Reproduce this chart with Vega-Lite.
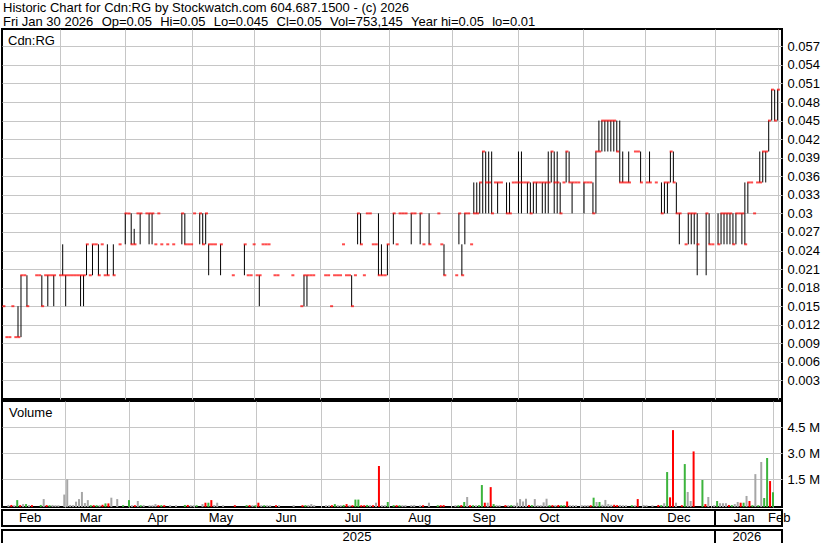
{
  "$schema": "https://vega.github.io/schema/vega-lite/v6.json",
  "background": "white",
  "padding": {"left": 1, "top": 2, "right": 0, "bottom": 0},
  "title": {
    "text": ["Historic Chart for Cdn:RG by Stockwatch.com 604.687.1500 - (c) 2026", "Fri Jan 30 2026 \u00a0\u200aOp=0.05 \u00a0\u200aHi=0.05 \u00a0\u200aLo=0.045 \u00a0\u200aCl=0.05 \u00a0\u200aVol=753,145 \u00a0\u200aYear hi=0.05 \u00a0\u200alo=0.01"],
    "anchor": "start", "font": "Liberation Sans", "fontSize": 13, "fontWeight": "normal", "color": "black", "lineHeight": 14, "offset": -1, "dx": 2
  },
  "datasets": {
    "px": [
      {"s":0,"lo":0.015,"hi":0.015,"c":0.015,"v":20000},
      {"s":1,"lo":0.01,"hi":0.01,"c":0.01,"v":20000},
      {"s":2,"lo":0.01,"hi":0.01,"c":0.01,"v":5000},
      {"s":3,"lo":0.015,"hi":0.015,"c":0.015,"v":300000},
      {"s":4,"lo":0.01,"hi":0.01,"c":0.01,"v":10000},
      {"s":5,"lo":0.01,"hi":0.015,"c":0.01,"v":70000},
      {"s":6,"lo":0.01,"hi":0.02,"c":0.02,"v":70000},
      {"s":7,"lo":0.02,"hi":0.02,"c":0.02,"v":10000},
      {"s":8,"lo":0.015,"hi":0.02,"c":0.015,"v":10000},
      {"s":11,"lo":0.02,"hi":0.02,"c":0.02,"v":20000},
      {"s":12,"lo":0.02,"hi":0.02,"c":0.02,"v":360000},
      {"s":13,"lo":0.015,"hi":0.02,"c":0.015,"v":10000},
      {"s":14,"lo":0.02,"hi":0.02,"c":0.02,"v":5000},
      {"s":15,"lo":0.015,"hi":0.02,"c":0.02,"v":20000},
      {"s":16,"lo":0.02,"hi":0.02,"c":0.02,"v":5000},
      {"s":17,"lo":0.015,"hi":0.02,"c":0.02,"v":5000},
      {"s":19,"lo":0.02,"hi":0.02,"c":0.02,"v":620000},
      {"s":20,"lo":0.02,"hi":0.025,"c":0.02,"v":1500000},
      {"s":21,"lo":0.015,"hi":0.02,"c":0.02,"v":20000},
      {"s":22,"lo":0.02,"hi":0.02,"c":0.02,"v":10000},
      {"s":23,"lo":0.02,"hi":0.02,"c":0.02,"v":210000},
      {"s":24,"lo":0.02,"hi":0.02,"c":0.02,"v":360000},
      {"s":25,"lo":0.02,"hi":0.02,"c":0.02,"v":770000},
      {"s":26,"lo":0.015,"hi":0.02,"c":0.02,"v":130000},
      {"s":27,"lo":0.015,"hi":0.02,"c":0.02,"v":300000},
      {"s":28,"lo":0.02,"hi":0.025,"c":0.025,"v":10000},
      {"s":29,"lo":0.02,"hi":0.02,"c":0.02,"v":5000},
      {"s":30,"lo":0.02,"hi":0.025,"c":0.025,"v":5000},
      {"s":31,"lo":0.025,"hi":0.025,"c":0.025,"v":5000},
      {"s":32,"lo":0.02,"hi":0.025,"c":0.02,"v":30000},
      {"s":33,"lo":0.025,"hi":0.025,"c":0.025,"v":110000},
      {"s":34,"lo":0.02,"hi":0.02,"c":0.02,"v":110000},
      {"s":35,"lo":0.02,"hi":0.025,"c":0.02,"v":440000},
      {"s":37,"lo":0.02,"hi":0.025,"c":0.02,"v":360000},
      {"s":39,"lo":0.025,"hi":0.025,"c":0.025,"v":5000},
      {"s":41,"lo":0.025,"hi":0.03,"c":0.03,"v":300000},
      {"s":42,"lo":0.03,"hi":0.03,"c":0.03,"v":5000},
      {"s":43,"lo":0.025,"hi":0.03,"c":0.025,"v":5000},
      {"s":44,"lo":0.025,"hi":0.0275,"c":0.025,"v":250000},
      {"s":45,"lo":0.03,"hi":0.03,"c":0.03,"v":5000},
      {"s":46,"lo":0.025,"hi":0.03,"c":0.03,"v":20000},
      {"s":48,"lo":0.03,"hi":0.03,"c":0.03,"v":5000},
      {"s":49,"lo":0.025,"hi":0.03,"c":0.03,"v":5000},
      {"s":50,"lo":0.025,"hi":0.03,"c":0.03,"v":70000},
      {"s":51,"lo":0.025,"hi":0.025,"c":0.025,"v":5000},
      {"s":52,"lo":0.03,"hi":0.03,"c":0.03,"v":10000},
      {"s":53,"lo":0.025,"hi":0.025,"c":0.025,"v":5000},
      {"s":55,"lo":0.025,"hi":0.025,"c":0.025,"v":10000},
      {"s":57,"lo":0.025,"hi":0.025,"c":0.025,"v":5000},
      {"s":60,"lo":0.025,"hi":0.03,"c":0.03,"v":20000},
      {"s":61,"lo":0.025,"hi":0.03,"c":0.025,"v":20000},
      {"s":62,"lo":0.025,"hi":0.025,"c":0.025,"v":10000},
      {"s":63,"lo":0.025,"hi":0.025,"c":0.025,"v":5000},
      {"s":64,"lo":0.03,"hi":0.03,"c":0.03,"v":5000},
      {"s":66,"lo":0.025,"hi":0.03,"c":0.03,"v":70000},
      {"s":67,"lo":0.025,"hi":0.03,"c":0.025,"v":150000},
      {"s":68,"lo":0.025,"hi":0.03,"c":0.03,"v":150000},
      {"s":69,"lo":0.02,"hi":0.025,"c":0.025,"v":300000},
      {"s":70,"lo":0.025,"hi":0.025,"c":0.025,"v":20000},
      {"s":71,"lo":0.025,"hi":0.025,"c":0.025,"v":150000},
      {"s":73,"lo":0.02,"hi":0.025,"c":0.025,"v":5000},
      {"s":77,"lo":0.02,"hi":0.02,"c":0.02,"v":5000},
      {"s":81,"lo":0.02,"hi":0.025,"c":0.025,"v":10000},
      {"s":82,"lo":0.02,"hi":0.02,"c":0.02,"v":10000},
      {"s":83,"lo":0.02,"hi":0.02,"c":0.02,"v":5000},
      {"s":84,"lo":0.025,"hi":0.025,"c":0.025,"v":5000},
      {"s":85,"lo":0.02,"hi":0.02,"c":0.02,"v":150000},
      {"s":86,"lo":0.015,"hi":0.02,"c":0.02,"v":5000},
      {"s":87,"lo":0.025,"hi":0.025,"c":0.025,"v":5000},
      {"s":88,"lo":0.025,"hi":0.025,"c":0.025,"v":5000},
      {"s":89,"lo":0.025,"hi":0.025,"c":0.025,"v":5000},
      {"s":91,"lo":0.02,"hi":0.02,"c":0.02,"v":5000},
      {"s":92,"lo":0.02,"hi":0.02,"c":0.02,"v":5000},
      {"s":97,"lo":0.02,"hi":0.02,"c":0.02,"v":10000},
      {"s":100,"lo":0.015,"hi":0.015,"c":0.015,"v":5000},
      {"s":101,"lo":0.015,"hi":0.02,"c":0.02,"v":10000},
      {"s":102,"lo":0.015,"hi":0.02,"c":0.02,"v":20000},
      {"s":103,"lo":0.02,"hi":0.02,"c":0.02,"v":70000},
      {"s":104,"lo":0.02,"hi":0.02,"c":0.02,"v":10000},
      {"s":108,"lo":0.02,"hi":0.02,"c":0.02,"v":5000},
      {"s":109,"lo":0.02,"hi":0.02,"c":0.02,"v":5000},
      {"s":110,"lo":0.015,"hi":0.015,"c":0.015,"v":5000},
      {"s":111,"lo":0.02,"hi":0.02,"c":0.02,"v":70000},
      {"s":112,"lo":0.02,"hi":0.02,"c":0.02,"v":10000},
      {"s":113,"lo":0.02,"hi":0.02,"c":0.02,"v":10000},
      {"s":114,"lo":0.025,"hi":0.025,"c":0.025,"v":20000},
      {"s":115,"lo":0.02,"hi":0.02,"c":0.02,"v":70000},
      {"s":116,"lo":0.02,"hi":0.02,"c":0.02,"v":5000},
      {"s":117,"lo":0.015,"hi":0.02,"c":0.015,"v":5000},
      {"s":118,"lo":0.02,"hi":0.02,"c":0.02,"v":330000},
      {"s":119,"lo":0.025,"hi":0.03,"c":0.03,"v":330000},
      {"s":120,"lo":0.025,"hi":0.03,"c":0.025,"v":5000},
      {"s":121,"lo":0.02,"hi":0.02,"c":0.02,"v":5000},
      {"s":122,"lo":0.03,"hi":0.03,"c":0.03,"v":20000},
      {"s":123,"lo":0.03,"hi":0.03,"c":0.03,"v":10000},
      {"s":124,"lo":0.025,"hi":0.025,"c":0.025,"v":5000},
      {"s":125,"lo":0.025,"hi":0.025,"c":0.025,"v":150000},
      {"s":126,"lo":0.02,"hi":0.03,"c":0.02,"v":2270000},
      {"s":127,"lo":0.02,"hi":0.025,"c":0.02,"v":5000},
      {"s":128,"lo":0.02,"hi":0.02,"c":0.02,"v":10000},
      {"s":129,"lo":0.02,"hi":0.025,"c":0.025,"v":190000},
      {"s":131,"lo":0.025,"hi":0.03,"c":0.03,"v":10000},
      {"s":132,"lo":0.025,"hi":0.025,"c":0.025,"v":5000},
      {"s":133,"lo":0.03,"hi":0.03,"c":0.03,"v":5000},
      {"s":134,"lo":0.03,"hi":0.03,"c":0.03,"v":5000},
      {"s":135,"lo":0.03,"hi":0.03,"c":0.03,"v":10000},
      {"s":137,"lo":0.025,"hi":0.03,"c":0.03,"v":10000},
      {"s":138,"lo":0.03,"hi":0.03,"c":0.03,"v":20000},
      {"s":140,"lo":0.025,"hi":0.03,"c":0.03,"v":5000},
      {"s":141,"lo":0.025,"hi":0.025,"c":0.025,"v":5000},
      {"s":143,"lo":0.025,"hi":0.03,"c":0.025,"v":150000},
      {"s":146,"lo":0.03,"hi":0.03,"c":0.03,"v":5000},
      {"s":147,"lo":0.025,"hi":0.025,"c":0.025,"v":5000},
      {"s":148,"lo":0.02,"hi":0.025,"c":0.02,"v":10000},
      {"s":152,"lo":0.02,"hi":0.02,"c":0.02,"v":5000},
      {"s":153,"lo":0.025,"hi":0.03,"c":0.03,"v":5000},
      {"s":154,"lo":0.02,"hi":0.025,"c":0.02,"v":10000},
      {"s":155,"lo":0.025,"hi":0.03,"c":0.03,"v":190000},
      {"s":156,"lo":0.03,"hi":0.03,"c":0.03,"v":480000},
      {"s":157,"lo":0.025,"hi":0.025,"c":0.025,"v":5000},
      {"s":158,"lo":0.03,"hi":0.035,"c":0.03,"v":5000},
      {"s":159,"lo":0.03,"hi":0.035,"c":0.03,"v":5000},
      {"s":160,"lo":0.03,"hi":0.035,"c":0.035,"v":10000},
      {"s":161,"lo":0.03,"hi":0.04,"c":0.04,"v":1170000},
      {"s":162,"lo":0.03,"hi":0.04,"c":0.035,"v":150000},
      {"s":163,"lo":0.03,"hi":0.04,"c":0.035,"v":150000},
      {"s":164,"lo":0.03,"hi":0.04,"c":0.03,"v":1050000},
      {"s":165,"lo":0.035,"hi":0.035,"c":0.035,"v":70000},
      {"s":166,"lo":0.03,"hi":0.035,"c":0.035,"v":10000},
      {"s":167,"lo":0.035,"hi":0.035,"c":0.035,"v":5000},
      {"s":169,"lo":0.03,"hi":0.035,"c":0.03,"v":10000},
      {"s":170,"lo":0.03,"hi":0.035,"c":0.03,"v":10000},
      {"s":171,"lo":0.035,"hi":0.035,"c":0.035,"v":10000},
      {"s":172,"lo":0.035,"hi":0.035,"c":0.035,"v":5000},
      {"s":173,"lo":0.03,"hi":0.04,"c":0.035,"v":150000},
      {"s":174,"lo":0.03,"hi":0.04,"c":0.035,"v":360000},
      {"s":175,"lo":0.035,"hi":0.035,"c":0.035,"v":220000},
      {"s":176,"lo":0.03,"hi":0.035,"c":0.035,"v":380000},
      {"s":177,"lo":0.03,"hi":0.035,"c":0.03,"v":20000},
      {"s":178,"lo":0.03,"hi":0.035,"c":0.035,"v":10000},
      {"s":179,"lo":0.03,"hi":0.035,"c":0.035,"v":360000},
      {"s":180,"lo":0.035,"hi":0.035,"c":0.035,"v":5000},
      {"s":181,"lo":0.03,"hi":0.035,"c":0.035,"v":5000},
      {"s":182,"lo":0.03,"hi":0.035,"c":0.035,"v":170000},
      {"s":183,"lo":0.03,"hi":0.04,"c":0.035,"v":380000},
      {"s":184,"lo":0.035,"hi":0.04,"c":0.04,"v":10000},
      {"s":185,"lo":0.03,"hi":0.04,"c":0.035,"v":10000},
      {"s":186,"lo":0.03,"hi":0.04,"c":0.035,"v":10000},
      {"s":187,"lo":0.03,"hi":0.035,"c":0.03,"v":20000},
      {"s":188,"lo":0.035,"hi":0.035,"c":0.035,"v":10000},
      {"s":189,"lo":0.035,"hi":0.04,"c":0.04,"v":5000},
      {"s":190,"lo":0.035,"hi":0.04,"c":0.035,"v":220000},
      {"s":191,"lo":0.03,"hi":0.035,"c":0.035,"v":5000},
      {"s":192,"lo":0.035,"hi":0.035,"c":0.035,"v":5000},
      {"s":193,"lo":0.035,"hi":0.035,"c":0.035,"v":5000},
      {"s":195,"lo":0.03,"hi":0.035,"c":0.035,"v":5000},
      {"s":196,"lo":0.035,"hi":0.035,"c":0.035,"v":5000},
      {"s":197,"lo":0.035,"hi":0.035,"c":0.035,"v":5000},
      {"s":198,"lo":0.03,"hi":0.035,"c":0.03,"v":5000},
      {"s":199,"lo":0.03,"hi":0.04,"c":0.04,"v":440000},
      {"s":200,"lo":0.04,"hi":0.045,"c":0.04,"v":190000},
      {"s":201,"lo":0.04,"hi":0.045,"c":0.045,"v":190000},
      {"s":202,"lo":0.04,"hi":0.045,"c":0.045,"v":30000},
      {"s":203,"lo":0.04,"hi":0.045,"c":0.045,"v":310000},
      {"s":204,"lo":0.04,"hi":0.045,"c":0.045,"v":70000},
      {"s":205,"lo":0.04,"hi":0.045,"c":0.045,"v":30000},
      {"s":206,"lo":0.04,"hi":0.045,"c":0.04,"v":30000},
      {"s":207,"lo":0.035,"hi":0.045,"c":0.035,"v":10000},
      {"s":208,"lo":0.035,"hi":0.04,"c":0.035,"v":20000},
      {"s":209,"lo":0.035,"hi":0.035,"c":0.035,"v":5000},
      {"s":210,"lo":0.035,"hi":0.04,"c":0.035,"v":5000},
      {"s":212,"lo":0.04,"hi":0.04,"c":0.04,"v":5000},
      {"s":213,"lo":0.04,"hi":0.04,"c":0.04,"v":5000},
      {"s":214,"lo":0.035,"hi":0.04,"c":0.035,"v":360000},
      {"s":216,"lo":0.035,"hi":0.035,"c":0.035,"v":20000},
      {"s":217,"lo":0.035,"hi":0.04,"c":0.035,"v":5000},
      {"s":219,"lo":0.035,"hi":0.035,"c":0.035,"v":5000},
      {"s":221,"lo":0.03,"hi":0.035,"c":0.03,"v":20000},
      {"s":222,"lo":0.03,"hi":0.035,"c":0.035,"v":10000},
      {"s":223,"lo":0.03,"hi":0.035,"c":0.035,"v":120000},
      {"s":224,"lo":0.035,"hi":0.04,"c":0.04,"v":1920000},
      {"s":225,"lo":0.035,"hi":0.04,"c":0.035,"v":460000},
      {"s":226,"lo":0.03,"hi":0.035,"c":0.03,"v":4340000},
      {"s":227,"lo":0.025,"hi":0.03,"c":0.03,"v":150000},
      {"s":229,"lo":0.025,"hi":0.025,"c":0.025,"v":5000},
      {"s":230,"lo":0.025,"hi":0.03,"c":0.03,"v":2380000},
      {"s":231,"lo":0.025,"hi":0.03,"c":0.03,"v":770000},
      {"s":232,"lo":0.025,"hi":0.03,"c":0.03,"v":250000},
      {"s":233,"lo":0.02,"hi":0.03,"c":0.025,"v":3110000},
      {"s":236,"lo":0.02,"hi":0.03,"c":0.03,"v":1460000},
      {"s":237,"lo":0.025,"hi":0.03,"c":0.025,"v":70000},
      {"s":238,"lo":0.025,"hi":0.025,"c":0.025,"v":480000},
      {"s":240,"lo":0.025,"hi":0.03,"c":0.025,"v":5000},
      {"s":241,"lo":0.025,"hi":0.03,"c":0.03,"v":250000},
      {"s":242,"lo":0.025,"hi":0.03,"c":0.03,"v":120000},
      {"s":243,"lo":0.025,"hi":0.03,"c":0.03,"v":120000},
      {"s":244,"lo":0.025,"hi":0.03,"c":0.03,"v":120000},
      {"s":245,"lo":0.025,"hi":0.03,"c":0.025,"v":20000},
      {"s":246,"lo":0.025,"hi":0.03,"c":0.03,"v":10000},
      {"s":247,"lo":0.03,"hi":0.03,"c":0.03,"v":70000},
      {"s":248,"lo":0.025,"hi":0.03,"c":0.03,"v":190000},
      {"s":249,"lo":0.025,"hi":0.035,"c":0.025,"v":150000},
      {"s":250,"lo":0.03,"hi":0.035,"c":0.035,"v":150000},
      {"s":251,"lo":0.035,"hi":0.035,"c":0.035,"v":540000},
      {"s":252,"lo":0.03,"hi":0.03,"c":0.03,"v":250000},
      {"s":253,"lo":0.035,"hi":0.035,"c":0.035,"v":5000},
      {"s":254,"lo":0.035,"hi":0.04,"c":0.035,"v":1800000},
      {"s":255,"lo":0.035,"hi":0.04,"c":0.04,"v":5000},
      {"s":256,"lo":0.035,"hi":0.04,"c":0.04,"v":2500000},
      {"s":257,"lo":0.04,"hi":0.045,"c":0.045,"v":420000},
      {"s":258,"lo":0.045,"hi":0.05,"c":0.05,"v":2730000},
      {"s":259,"lo":0.045,"hi":0.05,"c":0.045,"v":1400000},
      {"s":260,"lo":0.045,"hi":0.05,"c":0.05,"v":753145}
    ],
    "months": [
      {"m":"Feb","pos":9.3},{"m":"Mar","pos":29.7},{"m":"Apr","pos":52.2},{"m":"May","pos":73.4},
      {"m":"Jun","pos":95.3},{"m":"Jul","pos":117.7},{"m":"Aug","pos":140.1},{"m":"Sep","pos":161.7},
      {"m":"Oct","pos":183.6},{"m":"Nov","pos":204.6},{"m":"Dec","pos":227.1},{"m":"Jan","pos":249.0},
      {"m":"Feb","pos":260.8}
    ],
    "years": [{"yr":"2025","pos":119.0},{"yr":"2026","pos":249.9}],
    "yearsep": [{"pos":239.2}]
  },
  "vconcat": [
    {
      "width": 780, "height": 370,
      "data": {"name": "px"},
      "title": {"text": "Cdn:RG", "anchor": "start", "offset": -19, "dx": 6, "font": "Liberation Sans", "fontSize": 13, "fontWeight": "normal", "color": "black"},
      "encoding": {
        "x": {"field": "s", "type": "quantitative", "scale": {"domain": [-0.14, 261.7], "nice": false, "zero": false},
              "axis": {"values": [19.43, 41.25, 63.54, 84.55, 106.71, 129.67, 150.82, 172.97, 194.79, 215.8, 239.2, 260.25], "grid": true, "labels": false, "ticks": false, "domain": false, "title": null, "minExtent": 0, "maxExtent": 0}}
      },
      "layer": [
        {
          "mark": {"type": "rule", "color": "black", "strokeWidth": 1, "xOffset": 0.7},
          "encoding": {
            "y": {"field": "lo", "type": "quantitative", "scale": {"domain": [0, 0.0598], "nice": false, "zero": false},
                  "axis": {"orient": "right", "values": [0.003,0.006,0.009,0.012,0.015,0.018,0.021,0.024,0.027,0.03,0.033,0.036,0.039,0.042,0.045,0.048,0.051,0.054,0.057], "format": "~g", "grid": true, "ticks": false, "domain": false, "labelOverlap": false, "labelPadding": 5, "title": null}},
            "y2": {"field": "hi"}
          }
        },
        {
          "mark": {"type": "tick", "color": "#ff0000", "orient": "horizontal", "size": 3, "thickness": 2, "xOffset": 1.5},
          "encoding": {
            "y": {"field": "c", "type": "quantitative",
                  "axis": {"orient": "right", "values": [0.003,0.006,0.009,0.012,0.015,0.018,0.021,0.024,0.027,0.03,0.033,0.036,0.039,0.042,0.045,0.048,0.051,0.054,0.057], "format": "~g", "grid": true, "ticks": false, "domain": false, "labelOverlap": false, "labelPadding": 5, "title": null}}
          }
        }
      ]
    },
    {
      "width": 780, "height": 106,
      "data": {"name": "px"},
      "transform": [{"window": [{"op": "lag", "field": "c", "as": "pc"}], "sort": [{"field": "s", "order": "ascending"}]}],
      "title": {"text": "Volume", "anchor": "start", "offset": -19, "dx": 7, "font": "Liberation Sans", "fontSize": 13, "fontWeight": "normal", "color": "black"},
      "mark": {"type": "bar", "width": 2, "xOffset": 1},
      "encoding": {
        "x": {"field": "s", "type": "quantitative", "scale": {"domain": [-0.14, 261.7], "nice": false, "zero": false},
              "axis": {"values": [19.43, 41.25, 63.54, 84.55, 106.71, 129.67, 150.82, 172.97, 194.79, 215.8, 239.2, 260.25], "grid": true, "labels": false, "ticks": false, "domain": false, "title": null, "minExtent": 0, "maxExtent": 0}},
        "y": {"field": "v", "type": "quantitative", "scale": {"domain": [-98000, 6020000], "nice": false, "zero": false},
              "axis": {"orient": "right", "values": [1500000, 3000000, 4500000], "labelExpr": "format(datum.value/1000000, '.1f') + ' M'", "grid": true, "ticks": false, "domain": false, "labelOverlap": false, "labelPadding": 5, "title": null}},
        "y2": {"datum": -98000},
        "color": {"condition": [
          {"test": "datum.pc != null && datum.c > datum.pc", "value": "#3cb43c"},
          {"test": "datum.pc != null && datum.c < datum.pc", "value": "#ff0000"}
        ], "value": "#a6a6a6"}
      }
    },
    {
      "width": 780, "height": 16,
      "layer": [
        {
          "data": {"name": "months"},
          "mark": {"type": "text", "font": "Liberation Sans", "fontSize": 13, "color": "black"},
          "encoding": {
            "x": {"field": "pos", "type": "quantitative", "scale": {"domain": [-0.14, 261.7], "nice": false, "zero": false}, "axis": null},
            "text": {"field": "m"}
          }
        },
        {
          "data": {"name": "yearsep"},
          "mark": {"type": "rule", "color": "black", "strokeWidth": 2},
          "encoding": {"x": {"field": "pos", "type": "quantitative"}}
        }
      ]
    },
    {
      "width": 780, "height": 14,
      "layer": [
        {
          "data": {"name": "years"},
          "mark": {"type": "text", "font": "Liberation Sans", "fontSize": 13, "color": "black"},
          "encoding": {
            "x": {"field": "pos", "type": "quantitative", "scale": {"domain": [-0.14, 261.7], "nice": false, "zero": false}, "axis": null},
            "text": {"field": "yr"}
          }
        },
        {
          "data": {"name": "yearsep"},
          "mark": {"type": "rule", "color": "black", "strokeWidth": 2},
          "encoding": {"x": {"field": "pos", "type": "quantitative"}}
        }
      ]
    }
  ],
  "resolve": {"scale": {"x": "independent", "y": "independent"}},
  "spacing": 0,
  "config": {
    "font": "Liberation Sans",
    "view": {"stroke": "black", "strokeWidth": 2},
    "axis": {"labelFont": "Liberation Sans", "labelFontSize": 13, "labelColor": "black", "gridColor": "#c6c6c6", "gridWidth": 1, "labelOverlap": false}
  }
}
